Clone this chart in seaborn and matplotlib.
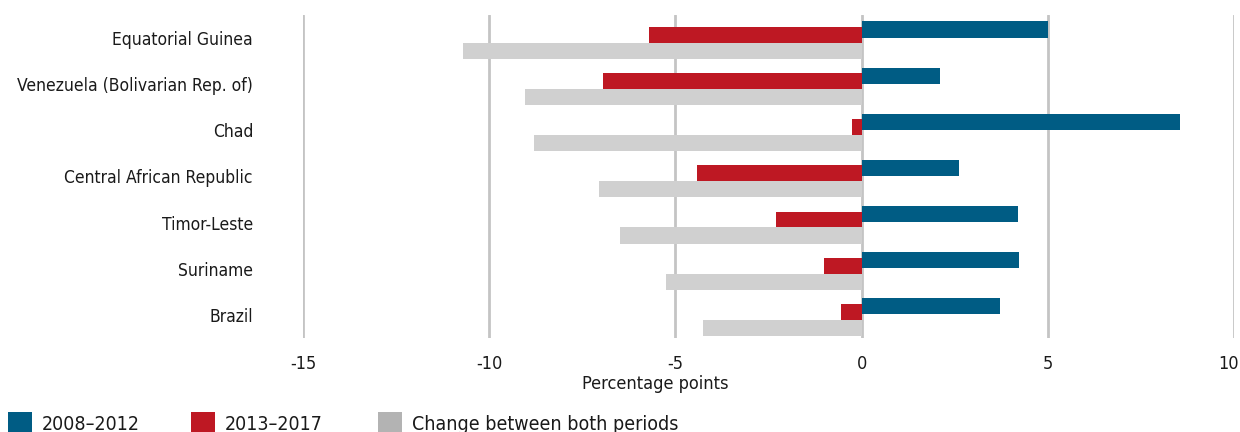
import pandas as pd
import matplotlib
matplotlib.use("Agg")
import matplotlib.pyplot as plt
import matplotlib.transforms as mtransforms
from matplotlib.patches import Patch
import seaborn as sns

# Datos
paises = ["Equatorial Guinea", "Venezuela (Bolivarian Rep. of)", "Chad",
          "Central African Republic", "Timor-Leste", "Suriname", "Brazil"]
periodo_2008_2012 = [5.0, 2.1, 8.55, 2.62, 4.2, 4.23, 3.72]
periodo_2013_2017 = [-5.7, -6.94, -0.26, -4.42, -2.29, -1.02, -0.54]
cambio = [-10.7, -9.04, -8.81, -7.04, -6.49, -5.25, -4.26]
series = ["2008\u20132012", "2013\u20132017", "Change between both periods"]

colores = ["#005C84", "#BE1823", "#D0D0D0"]
colores_leyenda = ["#005C84", "#BE1823", "#B3B3B3"]
desplazamientos = [-0.185, -0.065, 0.28]   # posicion vertical de cada serie
alto = 0.35

sns.set_style("white")
plt.rcParams["font.family"] = ["Liberation Sans Narrow", "DejaVu Sans"]
plt.rcParams["font.stretch"] = "condensed"

fig = plt.figure(figsize=(12.4, 4.32), dpi=100)
ax = fig.add_axes([303 / 1240, 0.2176, (1234 - 303) / 1240, 0.9653 - 0.2176])

for valores, color, dy in zip([periodo_2008_2012, periodo_2013_2017, cambio],
                              colores, desplazamientos):
    df = pd.DataFrame({"pais": paises, "valor": valores})
    n_antes = len(ax.patches)
    sns.barplot(data=df, y="pais", x="valor", orient="h", color=color,
                width=alto, ax=ax, zorder=3, linewidth=0, saturation=1)
    for p in ax.patches[n_antes:]:
        p.set_y(p.get_y() + dy)

ax.set_xlim(-15, 10)
ax.set_ylim(6.5, -0.5)
ax.set_xticks([-15, -10, -5, 0, 5, 10])
ax.set_xticklabels(["-15", "-10", "-5", "0", "5", "10"])
ax.grid(axis="x", color="#C4C4C4", linewidth=2, zorder=0)
ax.grid(axis="y", visible=False)
for s in ax.spines.values():
    s.set_visible(False)
ax.tick_params(axis="x", length=0, pad=12, labelsize=13, colors="#1a1a1a")
ax.tick_params(axis="y", length=0, pad=36, labelsize=12.5, colors="#1a1a1a")
ax.set_xlabel("")
ax.set_ylabel("")

# El ultimo rotulo se corre un poco a la izquierda para que no se corte
ultimo = ax.get_xticklabels()[-1]
ultimo.set_transform(ultimo.get_transform() +
                     mtransforms.ScaledTranslation(-4 / 72, 0, fig.dpi_scale_trans))

fig.text(655 / 1240, 1 - 384 / 432, "Percentage points", ha="center",
         va="center", fontsize=13, color="#1a1a1a")

# Leyenda: una entrada por posicion
pos_x = [8, 191, 378]
for etiqueta, color, x in zip(series, colores_leyenda, pos_x):
    fig.legend([Patch(facecolor=color, edgecolor="none")], [etiqueta],
               loc="center left", bbox_to_anchor=(x / 1240, 1 - 423 / 432),
               frameon=False, fontsize=14, handlelength=1.25,
               handleheight=1.3, handletextpad=0.5, borderaxespad=0,
               borderpad=0, labelcolor="#1a1a1a")

fig.savefig("out.png", dpi=100)
